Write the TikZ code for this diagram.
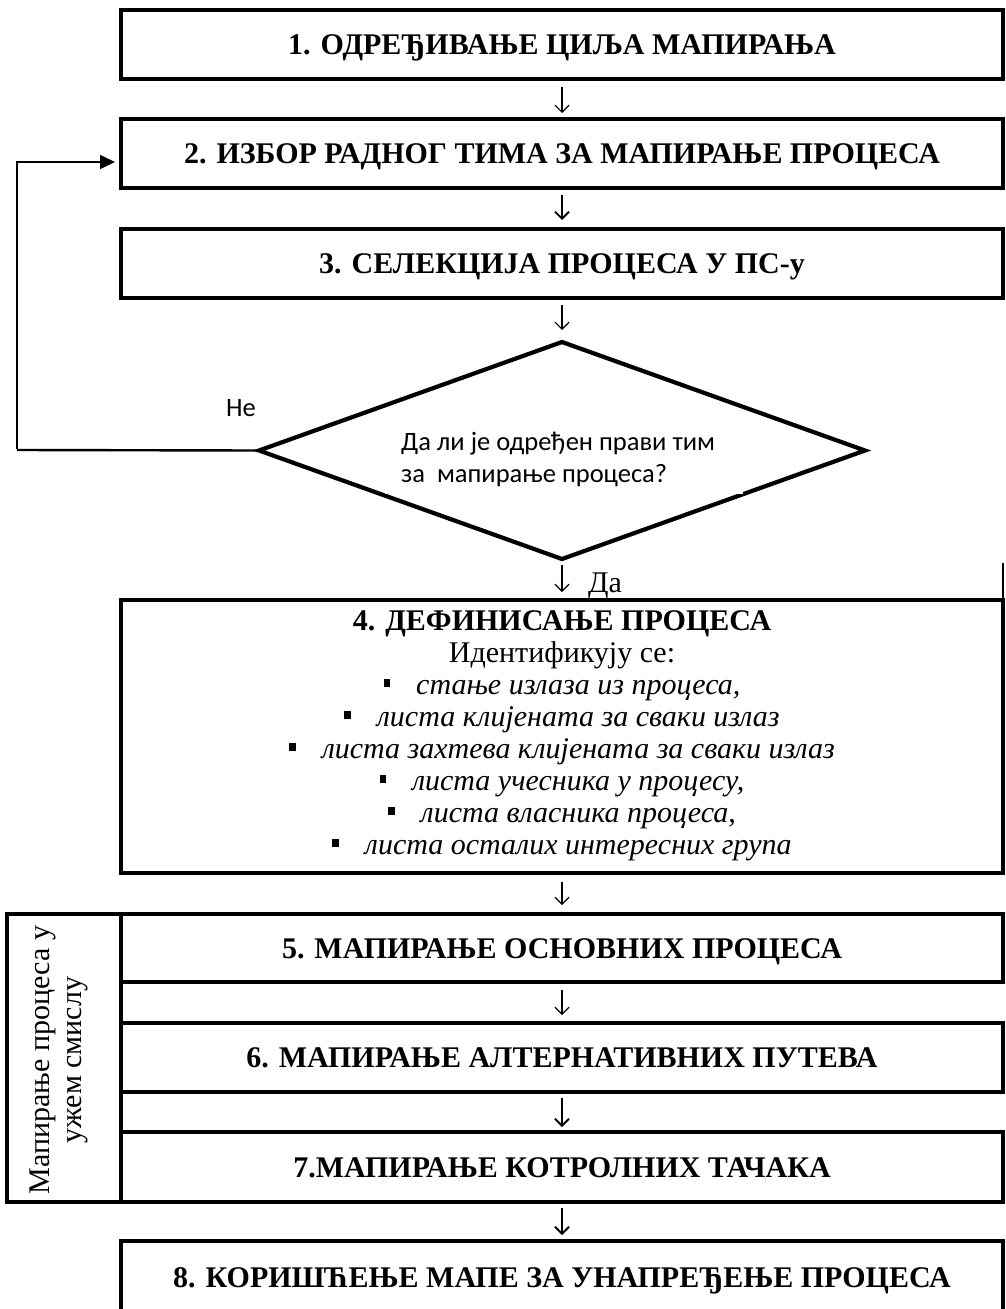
\documentclass[tikz,border=0pt]{standalone}
\usepackage{fontspec}
\setmainfont{Liberation Serif}
\newfontfamily\calfont{Carlito}
\usetikzlibrary{shapes.geometric,arrows.meta}
\newcommand\sqbul{\rule[7pt]{6.5pt}{8pt}\hspace{26pt}}
\begin{document}
\begin{tikzpicture}[x=1pt,y=-1pt,
  box/.style={draw, line width=3.6pt, minimum width=882pt, inner sep=0pt, outer sep=0pt,
              text height=20pt, text depth=0pt, font=\fontsize{30}{32}\selectfont\bfseries},
  arr/.style={line width=1.2pt, -{Straight Barb[length=7pt,width=14pt]}},
  arrb/.style={line width=1.8pt, -{Straight Barb[length=7pt,width=14pt]}},
  cal/.style={font=\calfont\fontsize{26.5}{32}\selectfont, inner sep=0pt},
  serif/.style={font=\fontsize{30}{32}\selectfont, inner sep=0pt},
]
\useasboundingbox (0,0) rectangle (1006,1309);

% boxes
\node[box, minimum height=69pt] (b1) at (562,44.5) {1. ОДРЕЂИВАЊЕ ЦИЉА МАПИРАЊА};
\node[box, minimum height=69pt] (b2) at (562,153.5) {2. ИЗБОР РАДНОГ ТИМА ЗА МАПИРАЊЕ ПРОЦЕСА};
\node[box, minimum height=69pt] (b3) at (562,263.5) {3. СЕЛЕКЦИЈА ПРОЦЕСА У ПС-у};

% decision
\node[diamond, draw, line width=4.2pt, minimum width=606pt, minimum height=217pt,
      inner sep=0pt, outer sep=0pt] (d) at (562,450.5) {};
\fill[white] (385,420) rectangle (743,493.5);
\node[cal, anchor=base west] (q1) at (401,450) {Да ли је одређен прави тим};
\node[cal, anchor=base west] (q2) at (401,482) {за\ \ мапирање процеса?};
\node[cal] (ne) at (241,408) {Не};

% box 4
\node[box, minimum height=273pt, text height=30pt, text depth=243pt,
      font=\fontsize{30}{32}\selectfont] (b4) at (562,736.5)
  {\begin{tabular}[t]{@{}c@{}}
   \textbf{4. ДЕФИНИСАЊЕ ПРОЦЕСА}\\
   Идентификују се:\\
   \sqbul\textit{стање излаза из процеса,}\\
   \sqbul\textit{листа клијената за сваки излаз}\\
   \sqbul\textit{листа захтева клијената за сваки излаз}\\
   \sqbul\textit{листа учесника у процесу,}\\
   \sqbul\textit{листа власника процеса,}\\
   \sqbul\textit{листа осталих интересних група}
   \end{tabular}};
\draw[line width=2pt] (b4.north east) -- ++(0,-37);
\node[serif, anchor=base west] (da) at (588,592) {Да};

% group of boxes 5-7
\node[box, minimum height=68pt] (b5) at (562,948) {5. МАПИРАЊЕ ОСНОВНИХ ПРОЦЕСА};
\node[box, minimum height=69pt] (b6) at (562,1057.5) {6. МАПИРАЊЕ АЛТЕРНАТИВНИХ ПУТЕВА};
\node[box, minimum height=70pt] (b7) at (562,1167) {7.МАПИРАЊЕ КОТРОЛНИХ ТАЧАКА};
\node[draw, line width=3.6pt, minimum width=114pt, minimum height=288pt,
      inner sep=0pt, outer sep=0pt] (grp) at (64,1058) {};
\node[serif, rotate=90] (gt) at (59,1060)
  {\begin{tabular}{@{}c@{}}Мапирање процеса у\\ ужем смислу\end{tabular}};

\node[box, minimum height=72pt] (b8) at (562,1277) {8. КОРИШЋЕЊЕ МАПЕ ЗА УНАПРЕЂЕЊЕ ПРОЦЕСА};

% arrows
\draw[arr,  shorten <=8pt, shorten >=6pt]  (b1.south) -- (b2.north);
\draw[arrb, shorten <=7pt, shorten >=9pt]  (b2.south) -- (b3.north);
\draw[arr,  shorten <=7pt, shorten >=12pt] (b3.south) -- (d.north);
\draw[arr,  shorten <=6pt, shorten >=8pt]  (d.south) -- (b4.north);
\draw[arr,  shorten <=9pt, shorten >=9pt]  (b4.south) -- (b5.north);
\draw[arr,  shorten <=8pt, shorten >=8pt]  (b5.south) -- (b6.north);
\draw[arrb, shorten <=6pt, shorten >=5pt]  (b6.south) -- (b7.north);
\draw[arrb, shorten <=6pt, shorten >=6pt]  (b7.south) -- (b8.north);

% feedback loop
\coordinate (c1) at (17,450);
\draw[line width=2.4pt] (d.west) -- (c1);
\draw[line width=1.6pt, -{Triangle[length=15pt,width=14pt]}, shorten >=6pt]
  ([yshift=1pt]c1) |- ([yshift=-8.5pt]b2.west);
\end{tikzpicture}
\end{document}
